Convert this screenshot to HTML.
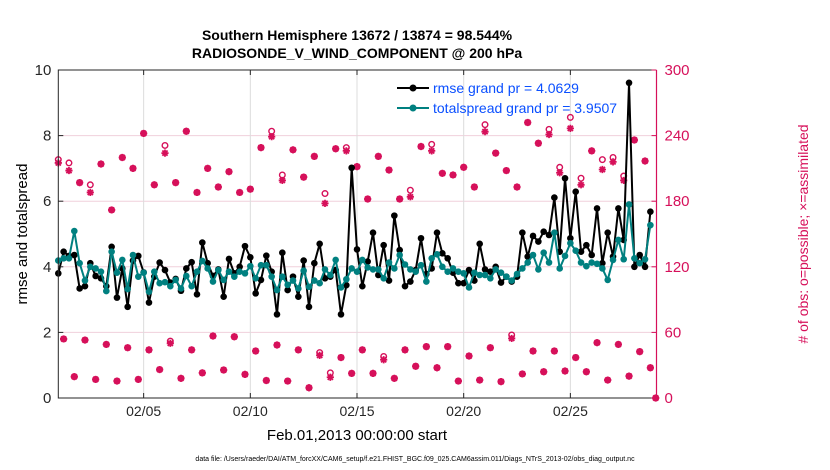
<!DOCTYPE html>
<html><head><meta charset="utf-8"><style>
html,body{margin:0;padding:0;background:#fff}
svg{display:block;font-family:"Liberation Sans",Arial,sans-serif}
</style></head><body>
<svg id="chart" width="830" height="470" viewBox="0 0 830 470">
<g id="grid"></g>
<g id="obs"></g>
<g id="lines"></g>
<g id="axes"></g>
<text x="357" y="40" text-anchor="middle" font-size="14" font-weight="bold">Southern Hemisphere 13672 / 13874 = 98.544%</text>
<text x="357" y="58" text-anchor="middle" font-size="14" font-weight="bold">RADIOSONDE_V_WIND_COMPONENT @ 200 hPa</text>
<text x="357" y="440" text-anchor="middle" font-size="15">Feb.01,2013 00:00:00 start</text>
<text transform="translate(27,234) rotate(-90)" text-anchor="middle" font-size="15">rmse and totalspread</text>
<text transform="translate(808,234) rotate(-90)" text-anchor="middle" font-size="14" fill="#d6105a"># of obs: o=possible; ×=assimilated</text>
<text x="415" y="461" text-anchor="middle" font-size="7">data file: /Users/raeder/DAI/ATM_forcXX/CAM6_setup/f.e21.FHIST_BGC.f09_025.CAM6assim.011/Diags_NTrS_2013-02/obs_diag_output.nc</text>
<g>
<line x1="397" y1="88" x2="429" y2="88" stroke="#000" stroke-width="2"/>
<circle cx="413" cy="88" r="3.5" fill="#000"/>
<text x="433" y="93" font-size="14" fill="#0a4fff">rmse grand pr = 4.0629</text>
<line x1="397" y1="108" x2="429" y2="108" stroke="#008080" stroke-width="2"/>
<circle cx="413" cy="108" r="3.5" fill="#008080"/>
<text x="433" y="113" font-size="14" fill="#0a4fff">totalspread grand pr = 3.9507</text>
</g>
</svg>
<script>
const rmse = [3.80,4.46,4.33,4.36,3.34,3.41,4.11,3.72,3.65,3.41,4.61,3.06,3.95,2.78,4.19,4.33,3.83,2.91,3.70,4.13,3.90,3.52,3.63,3.27,3.95,4.14,3.16,4.74,4.11,
3.72,3.92,3.09,4.24,3.80,4.00,4.63,4.29,3.19,3.60,4.34,3.85,2.55,4.43,3.29,3.70,3.09,4.19,2.78,4.11,4.70,3.65,3.70,3.90,2.55,3.44,7.02,4.53,
3.41,4.16,5.04,3.75,4.66,3.58,5.56,4.51,3.41,3.55,3.90,4.87,3.78,3.95,5.04,4.41,4.26,3.82,3.50,3.50,3.90,3.58,4.70,3.92,3.85,4.00,3.52,3.70,
3.55,3.70,5.04,4.31,4.94,4.77,5.07,4.97,6.11,4.46,6.70,4.87,6.29,4.46,4.66,4.36,5.78,4.11,5.04,4.31,5.78,4.82,9.61,4.00,4.36,4.00,5.68];
const spread = [4.19,4.26,4.26,5.09,4.11,3.58,4.00,3.95,3.85,3.26,4.46,3.82,4.21,3.32,4.36,3.70,3.82,3.24,3.85,3.50,3.53,3.41,3.60,3.34,3.72,3.41,3.85,4.18,3.95,
3.55,3.90,3.60,3.85,3.70,3.85,3.80,4.02,3.65,4.05,4.05,3.70,3.29,3.70,3.45,3.58,3.34,3.88,3.39,3.58,3.50,3.92,3.75,4.21,3.37,3.62,3.95,3.85,
4.21,3.98,3.92,3.92,3.65,4.13,3.95,4.36,4.07,3.92,3.85,4.05,3.55,4.26,4.38,4.00,3.85,3.95,3.85,3.80,3.37,3.82,3.75,3.75,3.65,3.92,3.82,3.70,
3.58,3.78,3.95,4.13,4.36,3.92,4.43,4.13,5.04,3.95,4.33,4.72,4.49,4.13,4.02,4.13,4.09,3.95,3.60,4.21,4.82,4.23,5.90,4.26,4.11,4.23,5.27];
const obsAssim = [215,54,208,19.5,197,53,188,17,214,49,172,15.5,220,46,210,17,242,44,195,26,224,50,197,18,244,44,188,23,210,56.7,
193,25.6,207,56,188,21.6,191,43,229,16,239,48.5,199,15.5,227,44,202,9.4,221,39,178,19,228,37,226,22.5,211.6,44,
182,22.5,221,35,208.5,18,182,44,184,29,230,47,226,27.7,205.5,47,204,15.5,211,38.4,193,16.4,243.6,46,224,15,
208,54.5,193,22,252,43,233,24,241,43,206,24.7,246.6,37,195,24,226,50.6,209,16.4,216,49,199,20,236,42.4,216.8,27.7,0];
const obsPossible = [218,54,215,19.5,197,53,195,17,214,49,172,15.5,220,46,210,17,242,44,195,26,231,52,197,18,244,44,188,23,210,56.7,
193,25.6,207,56,188,21.6,191,43,229,16,244,48.5,204,15.5,227,44,202,9.4,221,41.5,187,23,228,37,229,22.5,211.6,44,
182,22.5,221,38,208.5,18,182,44,190,29,230,47,232,27.7,205.5,47,204,15.5,211,38.4,193,16.4,250,46,224,15,
208,57.6,193,22,252,43,233,24,245.7,43,211,24.7,256.7,37,201,24,226,50.6,218,16.4,220,49,203,20,236,42.4,216.8,27.7,0];
const xTickLabels = ["02/05","02/10","02/15","02/20","02/25"];
const xTickIdx = [16,36,56,76,96];
const yLeftTicks = [0,2,4,6,8,10];
const yRightTicks = [0,60,120,180,240,300];

const NS="http://www.w3.org/2000/svg";
const L=58.3,R=656.5,T=70,B=398,STEP=5.334,MAG="#d6105a";
const xs=i=>L+i*STEP;
const yl=v=>B-v*(B-T)/10;
const yr=v=>B-v*(B-T)/300;
function mk(tag,attrs,parent){const e=document.createElementNS(NS,tag);for(const k in attrs)e.setAttribute(k,attrs[k]);parent.appendChild(e);return e;}
const grid=document.getElementById('grid'),obs=document.getElementById('obs'),lines=document.getElementById('lines'),axes=document.getElementById('axes');

yRightTicks.forEach(v=>{if(v>0&&v<300){const g=mk('line',{x1:L,x2:R,y1:yr(v),y2:yr(v),stroke:'#f0d0dc','stroke-width':1},grid);

}});
xTickIdx.forEach(i=>{const g=mk('line',{x1:xs(i),x2:xs(i),y1:T,y2:B,stroke:'#dcdcdc','stroke-width':1},grid);

});

// obs markers
obsPossible.forEach((v,i)=>{const c=mk('circle',{cx:xs(i),cy:yr(v),r:2.8,fill:'none',stroke:MAG,'stroke-width':1.4},obs);

});
obsAssim.forEach((v,i)=>{const x=xs(i),y=yr(v),s=3.6,d=2.6;
const p=mk('path',{d:`M${x-s},${y}H${x+s}M${x},${y-s}V${y+s}M${x-d},${y-d}L${x+d},${y+d}M${x-d},${y+d}L${x+d},${y-d}`,stroke:MAG,'stroke-width':1.8},obs);

});

function series(arr,color,name){
 const pl=mk('polyline',{points:arr.map((v,i)=>xs(i)+','+yl(v)).join(' '),fill:'none',stroke:color,'stroke-width':2,'stroke-linejoin':'round'},lines);
 
 
 arr.forEach((v,i)=>{const c=mk('circle',{cx:xs(i),cy:yl(v),r:3.3,fill:color},lines);
 
 });
}
series(rmse,'#000','rmse');
series(spread,'#008080','totalspread');

// axes box
const bx=mk('path',{d:`M${R},${T}H${L}V${B}H${R}`,fill:'none',stroke:'#262626','stroke-width':1},axes);


const ra=mk('line',{x1:R,x2:R,y1:T,y2:B,stroke:MAG,'stroke-width':1.2},axes);



xTickIdx.forEach((i,k)=>{const x=xs(i);
 const t1=mk('line',{x1:x,x2:x,y1:B,y2:B-5,stroke:'#262626'},axes);
 
 
 const t2=mk('line',{x1:x,x2:x,y1:T,y2:T+5,stroke:'#262626'},axes);
 
 
 const tx=mk('text',{x:x,y:B+18,'text-anchor':'middle','font-size':14,fill:'#262626'},axes);tx.textContent=xTickLabels[k];
 
 });
yLeftTicks.forEach(v=>{const y=yl(v);
 const t=mk('line',{x1:L,x2:L+5,y1:y,y2:y,stroke:'#262626'},axes);
 
 
 const tx=mk('text',{x:L-7,y:y+5,'text-anchor':'end','font-size':15,fill:'#262626'},axes);tx.textContent=v;
 
 });
yRightTicks.forEach(v=>{const y=yr(v);
 const t=mk('line',{x1:R-5,x2:R,y1:y,y2:y,stroke:MAG},axes);
 
 
 const tx=mk('text',{x:R+8,y:y+5,'text-anchor':'start','font-size':15,fill:MAG},axes);tx.textContent=v;
 
 });
</script>
</body></html>
